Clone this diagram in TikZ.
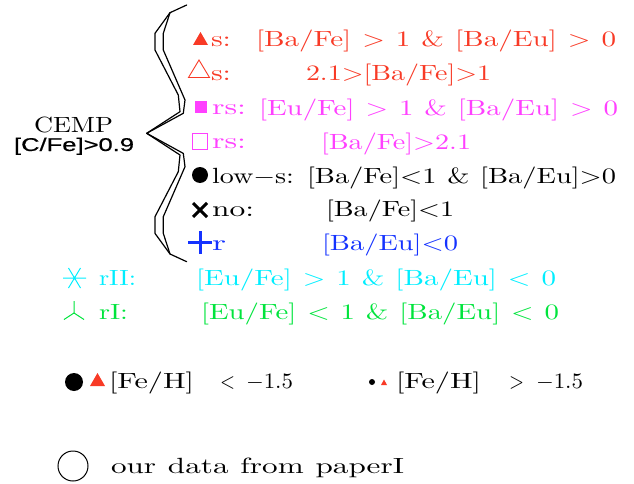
\documentclass[tikz,border=0pt]{standalone}
\usepackage{fontspec}
\usepackage{graphicx}
\newfontfamily\sansf{Liberation Sans}[FakeBold=0.5]
\definecolor{cred}{RGB}{248,58,38}
\definecolor{cmag}{RGB}{255,64,255}
\definecolor{cblue}{RGB}{20,50,255}
\definecolor{ccyan}{RGB}{0,238,255}
\definecolor{cgreen}{RGB}{0,228,60}
\newcommand\fitw[2]{\resizebox{#1pt}{2.2\height}{\spaceskip=3.8pt plus 0pt minus 0pt\relax #2}}
\newcommand\fits[2]{\resizebox{#1pt}{1.85\height}{#2}}
\tikzset{
  txt/.style={anchor=base west, inner sep=0pt, outer sep=0pt, font=\rmfamily\fontsize{10}{12}\selectfont},
  brace/.style={line width=1.2pt, line join=round, line cap=round},
  mk/.style={line width=0.9pt}
}
\begin{document}
\begin{tikzpicture}[x=1pt,y=-1pt]
\useasboundingbox (0,0) rectangle (634,484);
% brace
\draw[brace] (186.7,5) -- (170,12.7) -- (155,33.3) -- (155,50) -- (178.3,95) -- (180,111.7) -- (146.7,133.3) -- (180,155) -- (178.3,171.7) -- (155,216.7) -- (155,233.4) -- (170,254) -- (186.7,261.7);
\draw[brace] (170,12.7) -- (163.3,33.3) -- (163.3,50) -- (185,100) -- (183.3,113.3) -- (146.7,133.3) -- (183.3,153.4) -- (185,166.7) -- (163.3,216.7) -- (163.3,233.4) -- (170,254);
% CEMP
\node[txt] (cemp) at (34,133) {\fitw{79}{CEMP}};
\node[txt, font=\sansf\fontsize{10}{12}\selectfont] (cfe) at (14,151) {\fits{120}{[C/Fe]>0.9}};
% line 1
\fill[cred] (193,45) -- (208,45) -- (200.5,32) -- cycle;
\node[txt, text=cred] (l1a) at (211,47) {\fitw{20}{s:}};
\node[txt, text=cred] (l1b) at (256,47) {\fitw{360}{[Ba/Fe] > 1 \& [Ba/Eu] > 0}};
% line 2
\draw[cred, mk] (188.5,77.5) -- (209.5,77.5) -- (199,60) -- cycle;
\node[txt, text=cred] (l2a) at (211,81) {\fitw{20}{s:}};
\node[txt, text=cred] (l2b) at (306,81) {\fitw{185}{2.1>[Ba/Fe]>1}};
% line 3
\fill[cmag] (195,101) rectangle (207,113);
\node[txt, text=cmag] (l3a) at (212,115) {\fitw{34}{rs:}};
\node[txt, text=cmag] (l3b) at (259,115) {\fitw{359}{[Eu/Fe] > 1 \& [Ba/Eu] > 0}};
% line 4
\draw[cmag, mk] (192.5,133.5) rectangle (207.5,149.5);
\node[txt, text=cmag] (l4a) at (212,149) {\fitw{34}{rs:}};
\node[txt, text=cmag] (l4b) at (321,149) {\fitw{150}{[Ba/Fe]>2.1}};
% line 5
\fill (200,175) circle (8);
\node[txt] (l5a) at (212,183) {\fitw{82}{low$-$s:}};
\node[txt] (l5b) at (307,183) {\fitw{309}{[Ba/Fe]<1 \& [Ba/Eu]>0}};
% line 6
\draw[line width=3pt] (193,203) -- (207,217) (193,217) -- (207,203);
\node[txt] (l6a) at (212,216) {\fitw{42}{no:}};
\node[txt] (l6b) at (326,216) {\fitw{128}{[Ba/Fe]<1}};
% line 7
\draw[cblue, line width=3pt] (188,242) -- (212,242) (200,231) -- (200,254);
\node[txt, text=cblue] (l7a) at (212,250) {\fitw{14}{r}};
\node[txt, text=cblue] (l7b) at (322,250) {\fitw{136}{[Ba/Eu]<0}};
% rII
\draw[ccyan, line width=1pt] (63,278) -- (86,278) (68.5,268) -- (80.5,288) (68.5,288) -- (80.5,268);
\node[txt, text=ccyan] (r2a) at (99,285) {\fitw{37}{rII:}};
\node[txt, text=ccyan] (r2b) at (196,285) {\fitw{360}{[Eu/Fe] > 1 \& [Ba/Eu] < 0}};
% rI
\draw[cgreen, line width=1pt] (74,313) -- (74,301) (74,313) -- (64,319.5) (74,313) -- (84,319.5);
\node[txt, text=cgreen] (r1a) at (99,319) {\fitw{29}{rI:}};
\node[txt, text=cgreen] (r1b) at (201,319) {\fitw{358}{[Eu/Fe] < 1 \& [Ba/Eu] < 0}};
% Fe/H
\fill (74,382) circle (9);
\fill[cred] (90,386) -- (105,386) -- (97.5,373) -- cycle;
\node[txt] (fe1a) at (109,388) {\fitw{85}{[Fe/H]}};
\node[txt] (fe1b) at (220,388) {\fitw{15}{<}};
\node[txt] (fe1c) at (246,388) {\fitw{47}{$-$1.5}};
\fill (372,382) circle (3);
\fill[cred] (381,385) -- (387,385) -- (384,379.5) -- cycle;
\node[txt] (fe2a) at (396,388) {\fitw{85}{[Fe/H]}};
\node[txt] (fe2b) at (509,388) {\fitw{15}{>}};
\node[txt] (fe2c) at (536,388) {\fitw{47}{$-$1.5}};
% our data
\draw[line width=1pt] (73,466) circle (15);
\node[txt] (ours) at (111,473) {\fitw{293}{our data from paperI}};
\end{tikzpicture}
\end{document}
